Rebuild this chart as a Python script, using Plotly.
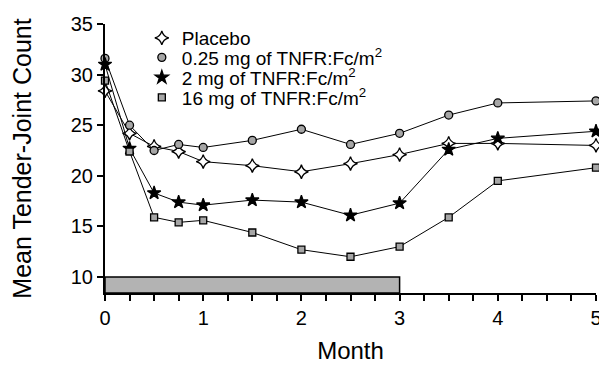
import plotly.graph_objects as go

months = [0, 0.25, 0.5, 0.75, 1, 1.5, 2, 2.5, 3, 3.5, 4, 5]
placebo = [28.4, 24.2, 22.9, 22.4, 21.4, 21.0, 20.4, 21.2, 22.1, 23.2, 23.2, 23.0]
dose_025 = [31.6, 25.0, 22.5, 23.1, 22.8, 23.5, 24.6, 23.1, 24.2, 26.0, 27.2, 27.4]
dose_2 = [31.0, 22.7, 18.3, 17.4, 17.1, 17.6, 17.4, 16.1, 17.3, 22.6, 23.7, 24.4]
dose_16 = [29.4, 22.4, 15.9, 15.4, 15.6, 14.4, 12.7, 12.0, 13.0, 15.9, 19.5, 20.8]

series_names = ["Placebo", "0.25 mg of TNFR:Fc/m<sup>2</sup>",
                "2 mg of TNFR:Fc/m<sup>2</sup>", "16 mg of TNFR:Fc/m<sup>2</sup>"]
treatment_months = [0, 3]
treatment_bar_top = 10
y_range = [8.42, 35]
y_ticks = [10, 15, 20, 25, 30, 35]
x_ticks = [i * 0.25 for i in range(21)]
x_ticktext = [str(int(v)) if v == int(v) else "" for v in x_ticks]

FONT = "Liberation Sans, Arial, sans-serif"
styles = [
    dict(symbol="star-diamond", color="white", size=10),
    dict(symbol="circle", color="#a6a6a6", size=8),
    dict(symbol="star", color="black", size=10),
    dict(symbol="square", color="#a6a6a6", size=7),
]
data = [placebo, dose_025, dose_2, dose_16]
legend_ids = ["legend", "legend2", "legend3", "legend4"]

# the page body has an 8px margin; the figure is sized to sit inside the window
W, H = 599, 356
ML, MR, MT, MB = 97, 11, 16, 71
plot_h = H - MT - MB


def paper_y(screen_y):
    return 1 - (screen_y - 8 - MT) / plot_h


fig = go.Figure()
for name, vals, st, lg in zip(series_names, data, styles, legend_ids):
    mk = dict(symbol=st["symbol"], color=st["color"], size=st["size"],
              line=dict(color="black", width=1.3))
    fig.add_trace(go.Scatter(x=months, y=vals, mode="lines+markers",
                             line=dict(color="black", width=1),
                             marker=mk, showlegend=False, cliponaxis=False))
    fig.add_trace(go.Scatter(x=[None], y=[None], mode="markers", name=name,
                             marker=mk, showlegend=True, legend=lg))

fig.add_shape(type="rect", xref="x", yref="y",
              x0=treatment_months[0], x1=treatment_months[1],
              y0=y_range[0], y1=treatment_bar_top,
              fillcolor="#b3b3b3", line=dict(color="black", width=1.5),
              layer="below")

legend_centers = [38, 57.5, 77.5, 97.5]
legend_layout = {}
for lg, cy in zip(legend_ids, legend_centers):
    legend_layout[lg] = dict(x=0.075, y=paper_y(cy), xanchor="left", yanchor="middle",
                             bgcolor="rgba(0,0,0,0)", font=dict(size=19),
                             itemwidth=30)

fig.update_layout(
    width=W, height=H,
    margin=dict(l=ML, r=MR, t=MT, b=MB),
    plot_bgcolor="white", paper_bgcolor="white",
    font=dict(family=FONT, size=19, color="black"),
    xaxis=dict(range=[0, 5], tickvals=x_ticks, ticktext=x_ticktext,
               showline=True, linecolor="black", linewidth=2,
               ticks="outside", ticklen=6, tickwidth=1.5, tickcolor="black",
               showgrid=False, zeroline=False, automargin=False,
               title=dict(text="Month", font=dict(size=24), standoff=16),
               tickfont=dict(size=20)),
    yaxis=dict(range=y_range, tickvals=y_ticks,
               showline=True, linecolor="black", linewidth=2,
               ticks="outside", ticklen=6, tickwidth=1.5, tickcolor="black",
               showgrid=False, zeroline=False, automargin=False,
               title=dict(text="Mean Tender-Joint Count", font=dict(size=25), standoff=42),
               tickfont=dict(size=20)),
    **legend_layout,
)
fig.write_html("out.html")
